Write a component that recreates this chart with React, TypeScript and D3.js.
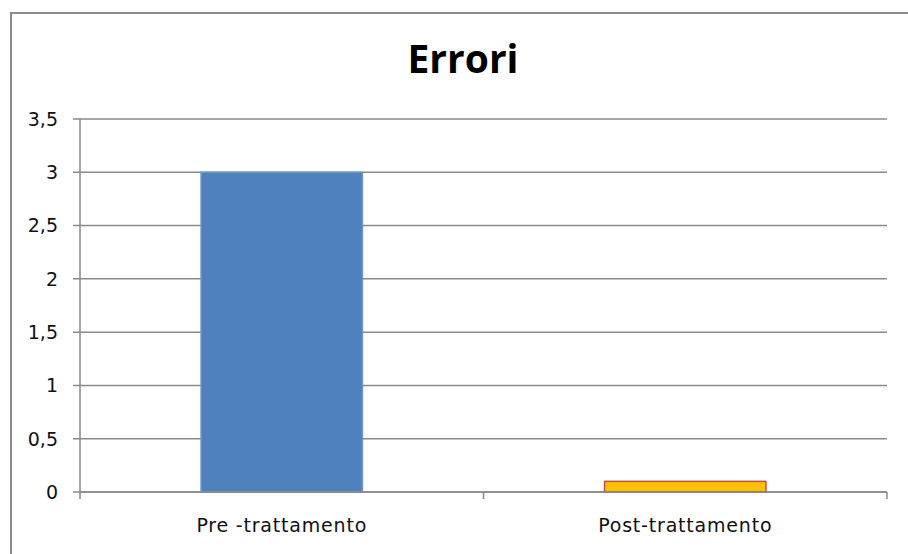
import React, { useEffect, useRef } from 'react';
import * as d3 from 'd3';

// Chart data
const categories = ['Pre -trattamento', 'Post-trattamento'];
const errori = [3, 0.1];
const yTicks = [0, 0.5, 1, 1.5, 2, 2.5, 3, 3.5];
const barFills = ['#4F81BD', '#FFC000'];
const barStrokes = ['#6F97C9', '#C0504D'];

const App: React.FC = () => {
  const chartRef = useRef<SVGSVGElement>(null);

  useEffect(() => {
    if (!chartRef.current) return;
    const svg = d3.select(chartRef.current);
    svg.selectAll('*').remove();

    const width = 908;
    const height = 554;
    const plot = { left: 80, right: 887, top: 119, bottom: 492 };

    // Outer chart border
    svg.append('rect').attr('x', 11).attr('y', 13).attr('width', width).attr('height', height).attr('fill', '#fff').attr('stroke', '#8c8c8c').attr('stroke-width', 2);

    // Title
    svg.append('text').attr('x', 463).attr('y', 73).attr('text-anchor', 'middle').style('font-family', '"Open Sans", sans-serif').style('font-weight', 700).style('font-size', '39px').style('fill', '#000').text('Errori');

    // Scales
    const x = d3.scaleBand<string>().domain(categories).range([plot.left, plot.right]).paddingInner(0.6).paddingOuter(0.3);
    const y = d3.scaleLinear().domain([0, 3.5]).range([plot.bottom, plot.top]);

    // Gridlines + y ticks
    svg.append('g').selectAll('line').data(yTicks).enter().append('line').attr('x1', plot.left - 7).attr('x2', plot.right).attr('y1', d => y(d)).attr('y2', d => y(d)).style('stroke', '#8a8a8a').style('stroke-width', 1.5);

    // Y labels
    svg.append('g').selectAll('text').data(yTicks).enter().append('text').attr('x', 58).attr('y', d => y(d)).attr('dy', '0.36em').attr('text-anchor', 'end').style('font-family', '"DejaVu Sans", sans-serif').style('font-size', '19px').style('fill', '#111').text(d => d3.format('')(d).replace('.', ','));

    // Y axis line
    svg.append('line').attr('x1', plot.left).attr('x2', plot.left).attr('y1', plot.top).attr('y2', plot.bottom + 7).style('stroke', '#8a8a8a').style('stroke-width', 1.5);

    // X axis tick marks at category boundaries
    const step = x.step();
    const bounds = d3.range(categories.length + 1).map(i => plot.left + i * step);
    svg.append('g').selectAll('line').data(bounds.slice(1)).enter().append('line').attr('x1', d => d).attr('x2', d => d).attr('y1', plot.bottom).attr('y2', plot.bottom + 7).style('stroke', '#8a8a8a').style('stroke-width', 1.5);

    // Bars
    svg.append('g').selectAll('rect').data(errori).enter().append('rect').attr('x', (d, i) => x(categories[i]) || 0).attr('width', x.bandwidth()).attr('y', d => y(d)).attr('height', d => plot.bottom - y(d)).style('fill', (d, i) => barFills[i]).style('stroke', (d, i) => barStrokes[i]).style('stroke-width', 1.5);

    // X axis line drawn over bars
    svg.append('line').attr('x1', plot.left).attr('x2', plot.right).attr('y1', plot.bottom).attr('y2', plot.bottom).style('stroke', '#8a8a8a').style('stroke-width', 1.5);

    // X labels
    svg.append('g').selectAll('text').data(categories).enter().append('text').attr('x', d => (x(d) || 0) + x.bandwidth() / 2).attr('y', 532).attr('text-anchor', 'middle').style('font-family', '"DejaVu Sans", sans-serif').style('font-size', '19px').style('letter-spacing', '0.8px').style('fill', '#111').text(d => d);
  }, []);

  return <svg ref={chartRef} width={908} height={554} style={{ position: 'absolute', left: 0, top: 0, background: '#fff' }}></svg>;
};

export default App;
